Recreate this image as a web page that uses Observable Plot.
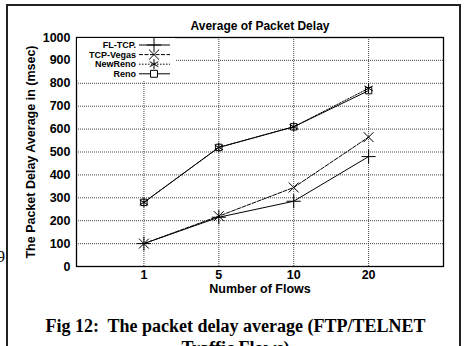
<!DOCTYPE html>
<html><head><meta charset="utf-8">
<script src="https://cdn.jsdelivr.net/npm/d3@7"></script>
<script src="https://cdn.jsdelivr.net/npm/@observablehq/plot@0.6"></script>
<style>
html,body{margin:0;background:#fff;overflow:hidden;}
#wrap{position:relative;width:465px;height:346px;overflow:hidden;background:#fff;font-family:"Liberation Sans",Arial,sans-serif;}
#border{position:absolute;left:6px;top:4px;width:455px;height:380px;border:2px solid #222;box-sizing:border-box;z-index:5;pointer-events:none;}
#chart{position:absolute;left:0;top:0;}
#title{position:absolute;left:110px;width:300px;top:19px;text-align:center;font-weight:bold;font-size:12px;}
#caption{position:absolute;left:0;width:471px;top:315px;text-align:center;font-family:"Liberation Serif","Times New Roman",serif;font-weight:bold;font-size:18px;line-height:22px;}
#pg{position:absolute;left:-3px;top:248px;font-family:"Liberation Serif",serif;font-size:16px;}
#legend{position:absolute;left:77px;top:38px;}
</style></head>
<body>
<div id="wrap">
  <div id="pg">9</div>
  <div id="chart"></div>
  <div id="title">Average of Packet Delay</div>
  <svg id="legend" width="98" height="42"></svg>
  <div id="caption">Fig 12:&nbsp; The packet delay average (FTP/TELNET<br>Traffic Flows)</div>
  <div id="border"></div>
</div>
<script>
const flows = ["1", "5", "10", "20"];
const flTcp = [100, 215, 285, 480];
const tcpVegas = [100, 220, 345, 565];
const newReno = [280, 520, 610, 778];
const reno = [280, 520, 610, 768];
const yTicks = [0,100,200,300,400,500,600,700,800,900,1000];
const seriesNames = ["FL-TCP.", "TCP-Vegas", "NewReno", "Reno"];

const series = [
  {name: seriesNames[0], values: flTcp, symbol: "plus", dash: null},
  {name: seriesNames[1], values: tcpVegas, symbol: "times", dash: "4,1.5"},
  {name: seriesNames[2], values: newReno, symbol: "asterisk", dash: "1.5,1.5"},
  {name: seriesNames[3], values: reno, symbol: "square", dash: null}
];
const rows = s => s.values.map((v, i) => ({i, v, name: s.name}));

const marks = [
  Plot.gridY(yTicks.slice(1, -1), {stroke: "#333", strokeOpacity: 0.9, strokeDasharray: "1,1"}),
  Plot.gridX([0,1,2,3], {stroke: "#333", strokeOpacity: 0.9, strokeDasharray: "1,1"}),
  Plot.axisY(yTicks, {tickSize: 0, tickPadding: 6, fontSize: 12.5, fontWeight: "bold", tickFormat: d => String(d),
    label: "The Packet Delay Average in (msec)", labelAnchor: "center", labelOffset: 50, labelArrow: "none"}),
  Plot.axisX([0,1,2,3], {tickSize: 0, tickPadding: 4, fontSize: 12.5, fontWeight: "bold",
    tickFormat: i => flows[i], label: "Number of Flows", labelAnchor: "center", labelOffset: 26, labelArrow: "none"})
];
for (const s of series) {
  marks.push(Plot.line(rows(s), {x: "i", y: "v", stroke: "#000", strokeWidth: 1, strokeDasharray: s.dash}));
  marks.push(Plot.dot(rows(s), {x: "i", y: "v", symbol: () => s.symbol, r: s.symbol === "square" ? 3.6 : 4.6, stroke: "#000", strokeWidth: 1, fill: "none"}));
}
marks.push(Plot.frame({stroke: "#000", strokeWidth: 1.3}));

const chart = Plot.plot({
  width: 465, height: 346,
  marginLeft: 76, marginRight: 22, marginTop: 37, marginBottom: 80,
  style: {fontFamily: "'Liberation Sans', Arial, sans-serif", fontSize: "12px", fontWeight: "bold", color: "#000", background: "transparent", overflow: "visible"},
  x: {type: "linear", domain: [-0.9, 4]},
  y: {domain: [0, 1000]},
  symbol: {type: "identity"},
  marks
});
document.getElementById("chart").appendChild(chart);

// legend drawn with d3
const lg = d3.select("#legend");
lg.append("rect").attr("width", 98).attr("height", 42).attr("fill", "#fff");
series.forEach((s, k) => {
  const y = 7 + k * 9.6;
  lg.append("text").attr("x", 59).attr("y", y).attr("dy", "0.35em").attr("text-anchor", "end")
    .attr("font-size", 9).attr("font-weight", "bold").attr("font-family", "'Liberation Sans', Arial, sans-serif").text(s.name);
  lg.append("line").attr("x1", 62).attr("x2", 93).attr("y1", y).attr("y2", y).attr("stroke", "#000").attr("stroke-width", 1)
    .attr("stroke-dasharray", s.dash);
  const sym = {plus: d3.symbolPlus, times: d3.symbolTimes, asterisk: d3.symbolAsterisk, square: d3.symbolSquare}[s.symbol];
  const size = s.symbol === "square" ? 48 : 70;
  lg.append("path").attr("d", d3.symbol(sym, size)()).attr("transform", `translate(77,${y})`)
    .attr("fill", s.symbol === "square" ? "#fff" : "none").attr("stroke", "#000").attr("stroke-width", 1);
});
</script>
</body></html>
